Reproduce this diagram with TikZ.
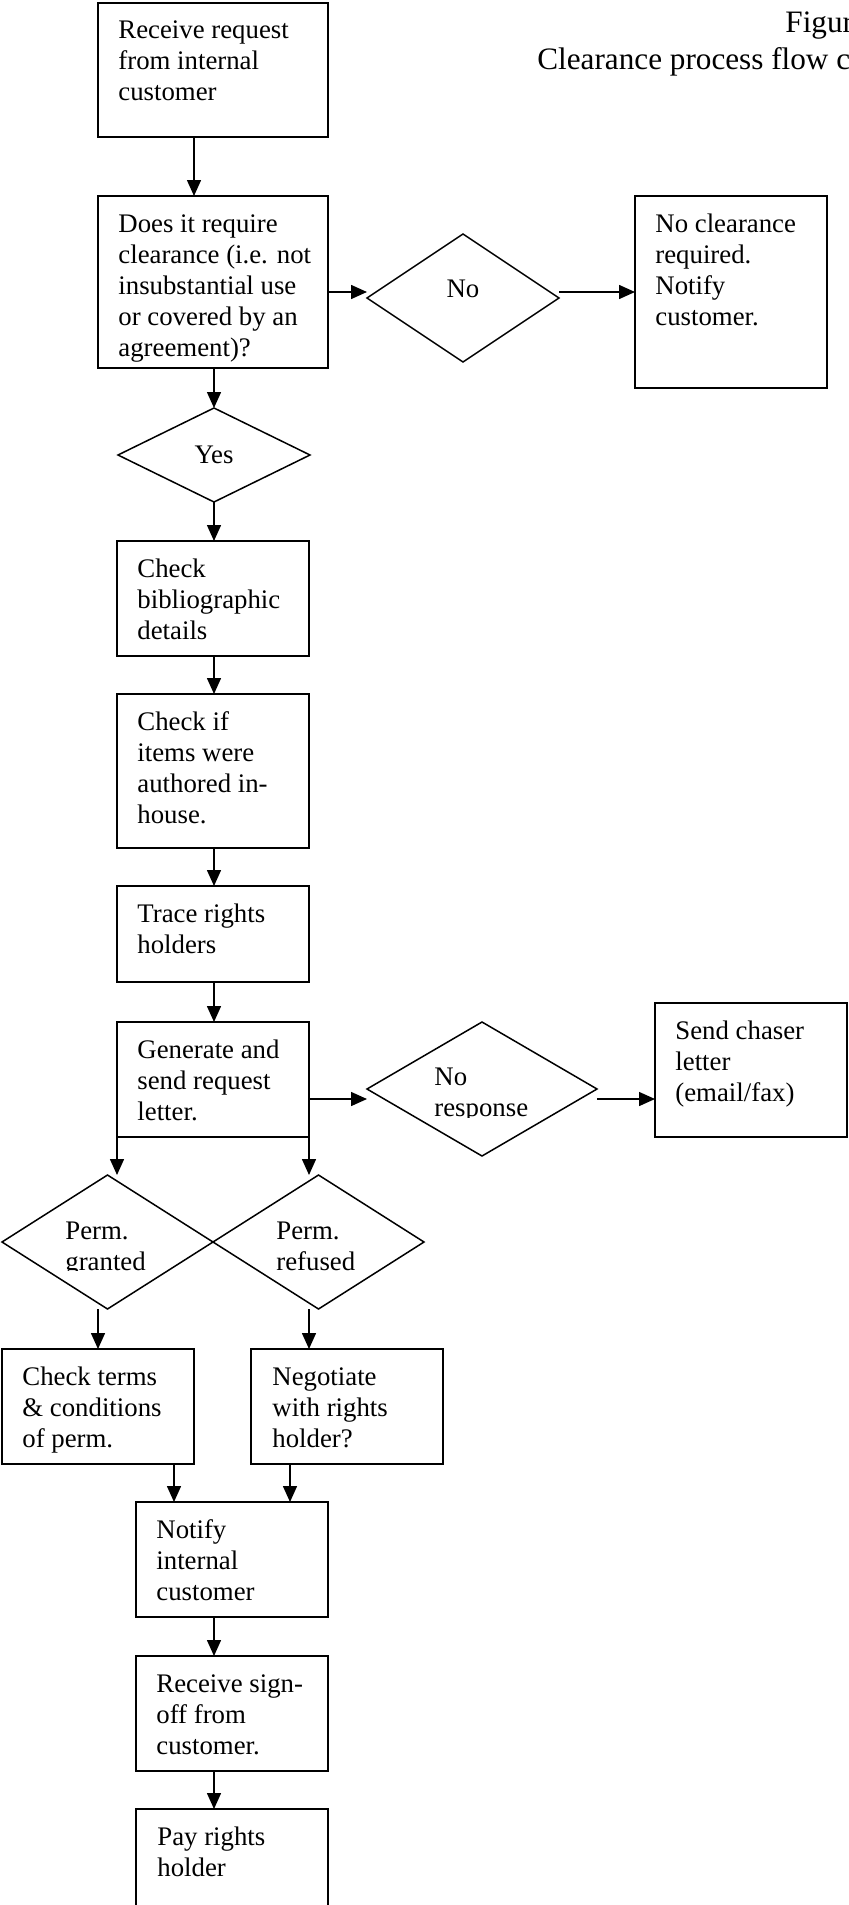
\documentclass[tikz,border=0pt]{standalone}
\usepackage{fontspec}
\setmainfont{Liberation Serif}
\usetikzlibrary{arrows.meta,shapes.geometric,calc}
\newcommand{\mylines}[1]{\begin{tabular}[t]{@{}l@{}}#1\end{tabular}}
\begin{document}
\begin{tikzpicture}[x=0.5pt,y=-0.5pt,
  box/.style={draw,rectangle,line width=0.9pt,anchor=north west,inner sep=0pt,outer sep=0pt},
  dia/.style={draw,diamond,line width=0.75pt,inner sep=0pt,outer sep=0pt},
  txt/.style={anchor=base west,inner sep=0pt,font=\fontsize{13.4pt}{15.5pt}\selectfont},
  ctxt/.style={anchor=base,inner sep=0pt,font=\fontsize{13.4pt}{15.5pt}\selectfont},
  ttl/.style={anchor=base west,inner sep=0pt,font=\fontsize{15.6pt}{18.5pt}\selectfont},
  arr/.style={line width=0.75pt,-{Triangle[length=8pt,width=7pt]}}]
\useasboundingbox (0,0) rectangle (848,1905);

% title
\node[ttl] (t1) at (785,33) {Figur};
\node[ttl] (t2) at (537,70) {Clearance process flow c};

% boxes
\node[box,minimum width=115pt,minimum height=67pt] (b1) at (98,3) {};
\node[txt] (b1t) at (118,39) {\mylines{Receive request\\from internal\\customer}};

\node[box,minimum width=115pt,minimum height=86pt] (b2) at (98,196) {};
\node[txt] (b2t) at (118,232) {\mylines{Does it require\\clearance (i.e. not\\insubstantial use\\or covered by an\\agreement)?}};

\node[box,minimum width=96pt,minimum height=96pt] (b3) at (635,196) {};
\node[txt] (b3t) at (655,232) {\mylines{No clearance\\required.\\Notify\\customer.}};

\node[box,minimum width=96pt,minimum height=57.5pt] (b4) at (117,541) {};
\node[txt] (b4t) at (137,577) {\mylines{Check\\bibliographic\\details}};

\node[box,minimum width=96pt,minimum height=77pt] (b5) at (117,694) {};
\node[txt] (b5t) at (137,730) {\mylines{Check if\\items were\\authored in-\\house.}};

\node[box,minimum width=96pt,minimum height=48pt] (b6) at (117,886) {};
\node[txt] (b6t) at (137,922) {\mylines{Trace rights\\holders}};

\node[box,minimum width=96pt,minimum height=57.5pt] (b7) at (117,1022) {};
\node[txt] (b7t) at (137,1058) {\mylines{Generate and\\send request\\letter.}};

\node[box,minimum width=96pt,minimum height=67pt] (b8) at (655,1003) {};
\node[txt] (b8t) at (675,1039) {\mylines{Send chaser\\letter\\(email/fax)}};

\node[box,minimum width=96pt,minimum height=57.5pt] (b9) at (2,1349) {};
\node[txt] (b9t) at (22,1385) {\mylines{Check terms\\\& conditions\\of perm.}};

\node[box,minimum width=96pt,minimum height=57.5pt] (b10) at (251,1349) {};
\node[txt] (b10t) at (272,1385) {\mylines{Negotiate\\with rights\\holder?}};

\node[box,minimum width=96pt,minimum height=57.5pt] (b11) at (136,1502) {};
\node[txt] (b11t) at (156,1538) {\mylines{Notify\\internal\\customer}};

\node[box,minimum width=96pt,minimum height=57.5pt] (b12) at (136,1656) {};
\node[txt] (b12t) at (156,1692) {\mylines{Receive sign-\\off from\\customer.}};

\node[box,minimum width=96pt,minimum height=70pt] (b13) at (136,1809) {};
\node[txt] (b13t) at (157,1845) {\mylines{Pay rights\\holder}};

% diamonds
\node[dia,minimum width=96pt,minimum height=64pt] (dno) at (463,298) {};
\node[ctxt] (dnot) at (463,297) {No};

\node[dia,minimum width=96pt,minimum height=47pt] (dyes) at (214,455) {};
\node[ctxt] (dyest) at (214,463) {Yes};

\node[dia,minimum width=115pt,minimum height=67pt] (dnr) at (482,1089) {};
\begin{scope}
\clip (420,1055) rectangle (570,1117);
\node[txt] (dnrt) at (434,1085) {\mylines{No\\response}};
\end{scope}

\node[dia,minimum width=105.5pt,minimum height=67pt] (dg) at (107.5,1242) {};
\node[dia,minimum width=105.5pt,minimum height=67pt] (dr) at (318.5,1242) {};
\begin{scope}
\clip (40,1210) rectangle (400,1270);
\node[txt] (dgt) at (65,1239) {\mylines{Perm.\\granted}};
\node[txt] (drt) at (276,1239) {\mylines{Perm.\\refused}};
\end{scope}

% connectors
\draw[arr] ($(b1.south west)+(96,0)$) -- ($(b2.north west)+(96,0)$);
\draw[arr] ($(b2.north east)+(0,96)$) -- ($(dno.west)+(0,-6)$);
\draw[arr] ($(dno.east)+(0,-6)$) -- ($(b3.north west)+(0,96)$);
\draw[arr] ($(b2.south west)+(116,0)$) -- (dyes.north);
\draw[arr] (dyes.south) -- ($(b4.north west)+(97,0)$);
\draw[arr] ($(b4.south west)+(97,0)$) -- ($(b5.north west)+(97,0)$);
\draw[arr] ($(b5.south west)+(97,0)$) -- ($(b6.north west)+(97,0)$);
\draw[arr] ($(b6.south west)+(97,0)$) -- ($(b7.north west)+(97,0)$);
\draw[arr] ($(b7.north east)+(0,77)$) -- ($(dnr.west)+(0,10)$);
\draw[arr] ($(dnr.east)+(0,10)$) -- ($(b8.north west)+(0,96)$);
\draw[arr] (b7.south west) -- ($(dg.north)+(9.5,0)$);
\draw[arr] (b7.south east) -- ($(dr.north)+(-9.5,0)$);
\draw[arr] ($(dg.south)+(-9.5,0)$) -- ($(b9.north west)+(96,0)$);
\draw[arr] ($(dr.south)+(-9.5,0)$) -- ($(b10.north west)+(58,0)$);
\draw[arr] ($(b9.south west)+(172,0)$) -- ($(b11.north west)+(38,0)$);
\draw[arr] ($(b10.south west)+(39,0)$) -- ($(b11.north west)+(154,0)$);
\draw[arr] ($(b11.south west)+(78,0)$) -- ($(b12.north west)+(78,0)$);
\draw[arr] ($(b12.south west)+(78,0)$) -- ($(b13.north west)+(78,0)$);
\end{tikzpicture}
\end{document}
